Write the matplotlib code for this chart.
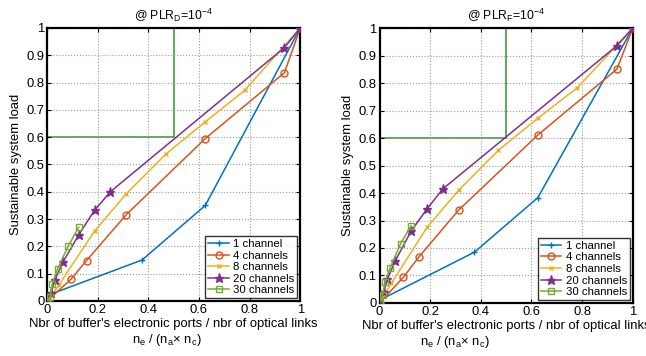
import matplotlib
matplotlib.use("Agg")
import matplotlib.pyplot as plt

plt.rcParams['font.family'] = ['Liberation Sans', 'DejaVu Sans']
plt.rcParams['mathtext.fontset'] = 'custom'
plt.rcParams['mathtext.rm'] = 'Liberation Sans'
plt.rcParams['mathtext.it'] = 'Liberation Sans'

labels = ['1 channel', '4 channels', '8 channels', '20 channels', '30 channels']
colors = ['#0072BD', '#D95319', '#EDB120', '#7E2F8E', '#77AC30']

# Left panel (PLR_D)
d_x1 = [0, 0.375, 0.625, 1]
d_y1 = [0.02, 0.15, 0.35, 1]
d_x4 = [0, 0.094, 0.156, 0.3125, 0.625, 0.9375, 1]
d_y4 = [0, 0.079, 0.148, 0.316, 0.595, 0.836, 1]
d_x8 = [0, 0.047, 0.1875, 0.3125, 0.469, 0.625, 0.781, 1]
d_y8 = [0, 0.059, 0.256, 0.392, 0.538, 0.656, 0.772, 1]
d_x20 = [0, 0.016, 0.031, 0.0625, 0.125, 0.1875, 0.25, 0.9375, 1]
d_y20 = [0, 0.03, 0.077, 0.142, 0.242, 0.332, 0.40, 0.928, 1]
d_x30 = [0, 0.0125, 0.021, 0.042, 0.083, 0.125]
d_y30 = [0, 0.015, 0.063, 0.118, 0.2, 0.27]

# Right panel (PLR_F)
f_x1 = [0, 0.375, 0.625, 1]
f_y1 = [0.01, 0.185, 0.383, 1]
f_x4 = [0, 0.094, 0.156, 0.3125, 0.625, 0.9375, 1]
f_y4 = [0, 0.093, 0.168, 0.338, 0.611, 0.851, 1]
f_x8 = [0, 0.047, 0.1875, 0.3125, 0.469, 0.625, 0.781, 1]
f_y8 = [0, 0.072, 0.275, 0.41, 0.555, 0.672, 0.783, 1]
f_x20 = [0, 0.016, 0.031, 0.0625, 0.125, 0.1875, 0.25, 0.9375, 1]
f_y20 = [0, 0.04, 0.087, 0.154, 0.262, 0.342, 0.415, 0.936, 1]
f_x30 = [0, 0.0125, 0.021, 0.042, 0.083, 0.125]
f_y30 = [0, 0.03, 0.075, 0.128, 0.215, 0.281]

rect_x = [0, 0.5, 0.5, 0, 0]
rect_y = [0.6, 0.6, 1, 1, 0.6]

markers = ['+', 'o', 'x', '*', 's']
msizes = [4, 5, 3.5, 6.5, 4.5]

fig = plt.figure(figsize=(6.46, 3.56), dpi=100)
ax1 = fig.add_axes([0.0728, 0.1545, 0.392, 0.767])
ax2 = fig.add_axes([0.5875, 0.149, 0.392, 0.772])

panels = [
    (ax1, [(d_x1, d_y1), (d_x4, d_y4), (d_x8, d_y8), (d_x20, d_y20), (d_x30, d_y30)],
     r'@ PLR$_\mathrm{D}$=10$^{-4}$', 0.336),
    (ax2, [(f_x1, f_y1), (f_x4, f_y4), (f_x8, f_y8), (f_x20, f_y20), (f_x30, f_y30)],
     r'@ PLR$_\mathrm{F}$=10$^{-4}$', 0.158),
]

fs = 9.4
for ax, series, title, sub_x in panels:
    ax.plot(rect_x, rect_y, color='#2f962f', lw=1.1, zorder=1)
    for (x, y), c, m, ms, lab in zip(series, colors, markers, msizes, labels):
        if m == '*':
            ax.plot(x, y, color=c, marker=m, ms=ms, mfc=c, mec=c, lw=1.1, label=lab, zorder=3)
        else:
            ax.plot(x, y, color=c, marker=m, ms=ms, mfc='none', mec=c, mew=1.0, lw=1.1, label=lab, zorder=3)
    ax.set_xlim(0, 1)
    ax.set_ylim(0, 1)
    ax.set_xticks([0, 0.2, 0.4, 0.6, 0.8, 1])
    ax.set_xticklabels(['0', '0.2', '0.4', '0.6', '0.8', '1'])
    ax.set_yticks([0, 0.1, 0.2, 0.3, 0.4, 0.5, 0.6, 0.7, 0.8, 0.9, 1])
    ax.set_yticklabels(['0', '0.1', '0.2', '0.3', '0.4', '0.5', '0.6', '0.7', '0.8', '0.9', '1'])
    ax.tick_params(direction='in', length=3, width=0.8, labelsize=fs, pad=2, top=True, right=True)
    ax.grid(True, linestyle=':', color='#999999', lw=0.8)
    for s in ax.spines.values():
        s.set_linewidth(1.6)
    ax.set_title(title, fontsize=8.8, pad=6)
    ax.set_ylabel('Sustainable system load', fontsize=fs, labelpad=3)
    ax.set_xlabel("Nbr of buffer's electronic ports / nbr of optical links", fontsize=fs, labelpad=1.5)
    ax.text(sub_x, -0.143, r'n$_\mathrm{e}$ / (n$_\mathrm{a}$$\times$ n$_\mathrm{c}$)', transform=ax.transAxes,
            fontsize=fs, ha='left', va='center')
    leg = ax.legend(loc='lower right', fontsize=8.2, frameon=True, fancybox=False,
                    borderpad=0.25, labelspacing=0.14, handlelength=1.8, handletextpad=0.4,
                    borderaxespad=0.25)
    leg.get_frame().set_edgecolor('black')
    leg.get_frame().set_linewidth(1.0)

fig.savefig('out.png', dpi=100)
